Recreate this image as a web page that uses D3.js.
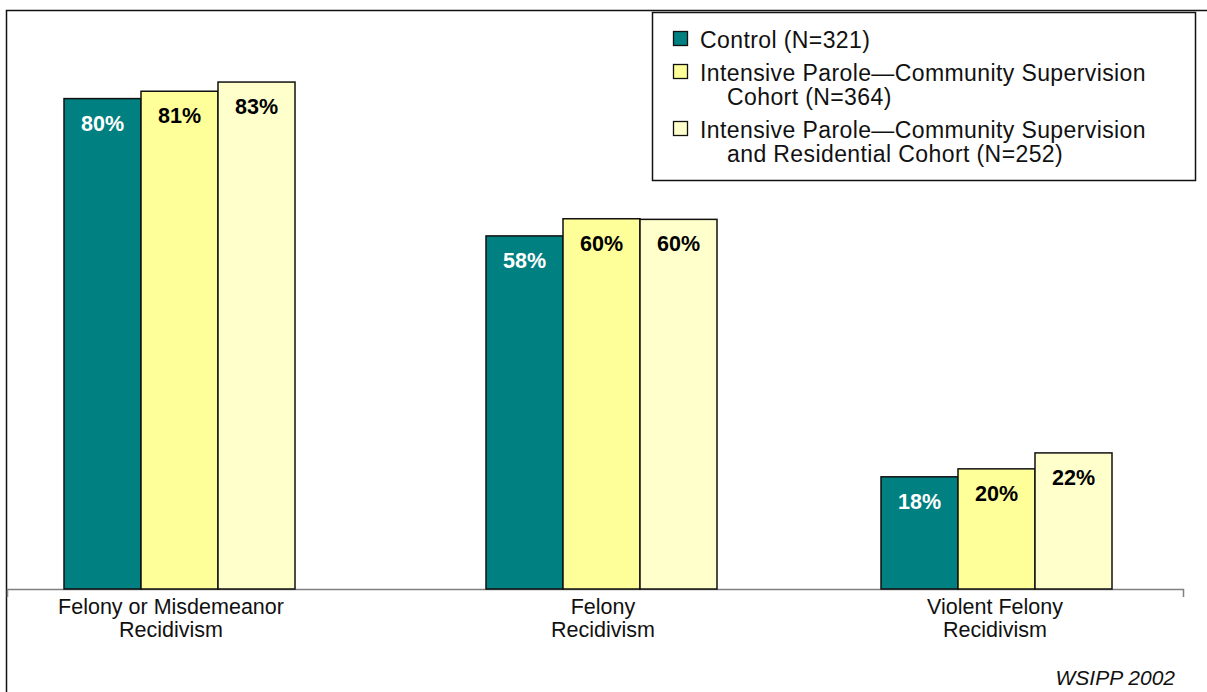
<!DOCTYPE html>
<html>
<head>
<meta charset="utf-8">
<script src="https://cdn.jsdelivr.net/npm/d3@7"></script>
<style>
  body { margin: 0; background: #fff; }
  svg { display: block; font-family: "Liberation Sans", Arial, sans-serif; }
</style>
</head>
<body>
<div id="chart"></div>
<script>
// data (bar heights estimated, labels rounded)
var categories = ["Felony or Misdemeanor Recidivism", "Felony Recidivism", "Violent Felony Recidivism"];
var categoryLines = [["Felony or Misdemeanor", "Recidivism"], ["Felony", "Recidivism"], ["Violent Felony", "Recidivism"]];
var seriesNames = ["Control (N=321)",
                   "Intensive Parole\u2014Community Supervision Cohort (N=364)",
                   "Intensive Parole\u2014Community Supervision and Residential Cohort (N=252)"];
var legendLines = [["Control (N=321)"],
                   ["Intensive Parole\u2014Community Supervision", "Cohort (N=364)"],
                   ["Intensive Parole\u2014Community Supervision", "and Residential Cohort (N=252)"]];
var controlVals = [80.0, 57.6, 18.3];
var supervisionVals = [81.2, 60.4, 19.6];
var residentialVals = [82.7, 60.3, 22.2];
var footnote = "WSIPP 2002";

var W = 1207, H = 692;
var colors = ["#008080", "#FFFF99", "#FFFFCC"];
var labelColors = ["#fff", "#000", "#000"];
var allVals = [controlVals, supervisionVals, residentialVals];

var svg = d3.select("#chart").append("svg")
    .attr("width", W)
    .attr("height", H);

// outer frame (top + left edges only are visible)
svg.append("path")
    .attr("d", "M6.5,692V10.5H1207")
    .attr("fill", "none")
    .attr("stroke", "#111")
    .attr("stroke-width", 1.5);

var baseY = 589;
var y = d3.scaleLinear().domain([0, 100]).range([baseY, baseY - 613]);
var xCenter = d3.scaleOrdinal().domain(categories).range([179.5, 601.5, 996.5]);
var xLabel = d3.scaleOrdinal().domain(categories).range([171, 603, 995]);
var xSeries = d3.scaleBand().domain(seriesNames).range([-115.5, 115.5]).padding(0);

// category axis line
var xAxisScale = d3.scaleLinear().domain([0, categories.length]).range([7, 1183]);
var axis = svg.append("g")
    .attr("transform", "translate(0," + baseY + ")")
    .call(d3.axisBottom(xAxisScale).tickValues([]).tickSizeOuter(8));
axis.select(".domain").attr("stroke", "#808080").attr("stroke-width", 1.5);

// bars
var rows = [];
categories.forEach(function(c, ci) {
    seriesNames.forEach(function(s, si) {
        rows.push({cat: c, ser: s, si: si, v: allVals[si][ci]});
    });
});

var bars = svg.append("g");
bars.selectAll("rect")
    .data(rows)
    .enter()
    .append("rect")
    .attr("x", function(d) { return xCenter(d.cat) + xSeries(d.ser); })
    .attr("y", function(d) { return y(d.v); })
    .attr("width", xSeries.bandwidth())
    .attr("height", function(d) { return baseY - y(d.v); })
    .attr("fill", function(d) { return colors[d.si]; })
    .attr("stroke", "#111")
    .attr("stroke-width", 1.5);

bars.selectAll("text")
    .data(rows)
    .enter()
    .append("text")
    .attr("x", function(d) { return xCenter(d.cat) + xSeries(d.ser) + xSeries.bandwidth() / 2; })
    .attr("y", function(d) { return y(d.v) + 32; })
    .attr("text-anchor", "middle")
    .attr("font-size", 21.5)
    .attr("font-weight", "bold")
    .attr("fill", function(d) { return labelColors[d.si]; })
    .text(function(d) { return Math.round(d.v) + "%"; });

// category labels
var catLab = svg.append("g").selectAll("text")
    .data(categories)
    .enter()
    .append("text")
    .attr("text-anchor", "middle")
    .attr("font-size", 21.5)
    .attr("fill", "#111");
catLab.each(function(d, i) {
    var t = d3.select(this);
    categoryLines[i].forEach(function(line, li) {
        t.append("tspan")
            .attr("x", xLabel(d))
            .attr("y", 614 + li * 23)
            .text(line);
    });
});

// legend
var legend = svg.append("g").attr("class", "legend");
legend.append("rect")
    .attr("x", 652.5).attr("y", 12.5)
    .attr("width", 543).attr("height", 168)
    .attr("fill", "#fff")
    .attr("stroke", "#111")
    .attr("stroke-width", 1.5);

var itemY = [48, 81, 138];
seriesNames.forEach(function(s, i) {
    legend.append("rect")
        .attr("x", 673.5).attr("y", itemY[i] - 16.5)
        .attr("width", 14).attr("height", 14)
        .attr("fill", colors[i])
        .attr("stroke", "#111")
        .attr("stroke-width", 1.3);
    var t = legend.append("text")
        .attr("font-size", 23)
        .attr("letter-spacing", 0.4)
        .attr("fill", "#111");
    legendLines[i].forEach(function(line, li) {
        t.append("tspan")
            .attr("x", li === 0 ? 700 : 727)
            .attr("y", itemY[i] + li * 24)
            .text(line);
    });
});

svg.append("text")
    .attr("x", 1175).attr("y", 685)
    .attr("text-anchor", "end")
    .attr("font-size", 21)
    .attr("font-style", "italic")
    .attr("fill", "#111")
    .text(footnote);
</script>
</body>
</html>
